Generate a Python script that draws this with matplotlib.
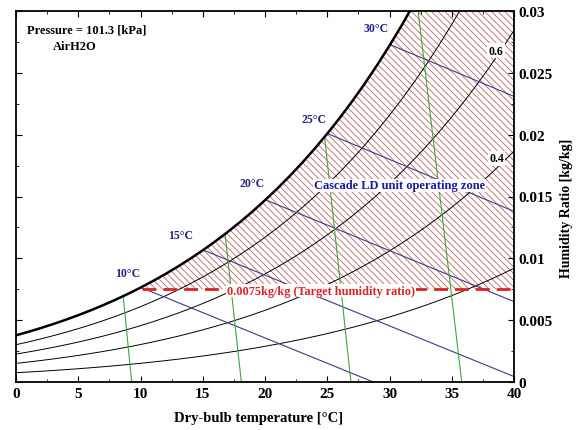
import numpy as np
import matplotlib
matplotlib.use("Agg")
import matplotlib.pyplot as plt
from matplotlib.ticker import MultipleLocator, FuncFormatter

plt.rcParams['font.family'] = ['Liberation Serif', 'DejaVu Serif']
plt.rcParams['font.weight'] = 'bold'
plt.rcParams['axes.labelweight'] = 'bold'
plt.rcParams['hatch.linewidth'] = 0.6

# ---- Data ----
P_ATM = 101.325  # kPa

# saturation vapour pressure of water [kPa], 0..40 C
t_table = list(range(0, 41))
p_sat = [0.6113, 0.6571, 0.7060, 0.7581, 0.8135, 0.8725, 0.9353, 1.0020, 1.0729, 1.1481,
         1.2281, 1.3129, 1.4027, 1.4979, 1.5988, 1.7056, 1.8185, 1.9380, 2.0644, 2.1978,
         2.3388, 2.4877, 2.6447, 2.8104, 2.9850, 3.1690, 3.3629, 3.5670, 3.7818, 4.0078,
         4.2455, 4.4953, 4.7578, 5.0335, 5.3229, 5.6267, 5.9453, 6.2795, 6.6298, 6.9969,
         7.3814]

rh_levels = [0.2, 0.4, 0.6, 0.8]

# wet-bulb lines: (T_start, w_start) on saturation -> (T_end, w_end)
wb_labels = ["10°C", "15°C", "20°C", "25°C", "30°C"]
wb_start = [(10.0, 0.00766), (15.0, 0.01069), (20.0, 0.01475), (25.0, 0.0201), (30.0, 0.0273)]
wb_end = [(28.7, 0.0), (40.0, 0.00044), (40.0, 0.0065), (40.0, 0.0138), (40.0, 0.0231)]
wb_label_pos = [(9.0, 0.0088), (13.2, 0.0119), (18.95, 0.0161), (23.9, 0.0213), (28.9, 0.0286)]

# specific volume lines (green)
vol_top = [(8.62, 0.00687), (16.8, 0.0119), (24.8, 0.0197), (32.3, 0.030)]
vol_bot = [(9.29, 0.0), (18.1, 0.0), (26.9, 0.0), (35.8, 0.0)]

rh_label = ["0.6", "0.4"]
rh_label_pos = [(38.55, 0.0268), (38.6, 0.0181)]

target_w = 0.0075

# ---- Helpers ----
t_arr = np.array(t_table, dtype=float)
ps_arr = np.array(p_sat)


def hum_ratio(phi):
    pv = phi * ps_arr
    return 0.622 * pv / (P_ATM - pv)


w_sat = hum_ratio(1.0)

# ---- Plot ----
fig = plt.figure(figsize=(5.8, 4.31), dpi=100)
ax = fig.add_axes([16 / 580, 48 / 431, 498 / 580, 371 / 431])

# hatched operating zone
ax.fill_between(t_arr, target_w, w_sat, where=w_sat >= target_w, interpolate=True,
                facecolor="none", edgecolor="#c06466", hatch="\\\\\\\\\\", linewidth=0, zorder=1)

for phi in rh_levels:
    ax.plot(t_arr, hum_ratio(phi), color="black", lw=0.7, zorder=2)
ax.plot(t_arr, w_sat, color="black", lw=1.8, zorder=3)

for (x0, y0), (x1, y1) in zip(wb_start, wb_end):
    ax.plot([x0, x1], [y0, y1], color="#3a3a8c", lw=0.8, zorder=2)

for (x0, y0), (x1, y1) in zip(vol_top, vol_bot):
    ax.plot([x0, x1], [y0, y1], color="#3aa83a", lw=0.8, zorder=2)

for lab, (x, y) in zip(wb_labels, wb_label_pos):
    ax.text(x, y, lab, color="#22228a", fontsize=8.5, ha="center", va="center", zorder=5)

for lab, (x, y) in zip(rh_label, rh_label_pos):
    ax.text(x, y, lab, color="black", fontsize=8.5, ha="center", va="center", zorder=5,
            bbox=dict(facecolor="white", edgecolor="none", pad=1))

# target line
ax.plot([10.1, 40], [target_w, target_w], color="#dd2222", lw=2, ls=(0, (5, 2.5)), zorder=4)
ax.text(24.5, 0.00738, "0.0075kg/kg (Target humidity ratio)", color="#dd2222", fontsize=8.8,
        ha="center", va="center", zorder=6,
        bbox=dict(facecolor="white", edgecolor="none", pad=0.5))
ax.text(30.8, 0.0159, "Cascade LD unit operating zone", color="#1a1aa0", fontsize=9,
        ha="center", va="center", zorder=6,
        bbox=dict(facecolor="white", edgecolor="none", pad=0.5))

ax.text(0.022, 0.949, "Pressure = 101.3 [kPa]", transform=ax.transAxes, fontsize=9,
        ha="left", va="center")
ax.text(0.074, 0.905, "AirH2O", transform=ax.transAxes, fontsize=9, ha="left", va="center")

# axes styling
ax.set_xlim(0, 40)
ax.set_ylim(0, 0.03)
ax.xaxis.set_major_locator(MultipleLocator(5))
ax.xaxis.set_minor_locator(MultipleLocator(2.5))
ax.yaxis.set_major_locator(MultipleLocator(0.005))
ax.yaxis.set_minor_locator(MultipleLocator(0.0025))
ax.yaxis.set_major_formatter(FuncFormatter(lambda v, p: "%g" % round(v, 4)))
ax.tick_params(which="both", direction="in", top=True, bottom=True, left=True, right=True,
               labelleft=False, labelright=True, labelsize=11)
ax.tick_params(which="major", length=4)
ax.tick_params(which="minor", length=2.5)
for s in ax.spines.values():
    s.set_linewidth(1.3)

ax.yaxis.set_label_position("right")
ax.set_xlabel("Dry-bulb temperature [°C]", fontsize=10.5)
ax.set_ylabel("Humidity Ratio [kg/kg]", fontsize=10)
ax.xaxis.set_label_coords(0.488, -0.078)
ax.yaxis.set_label_coords(1.093, 0.47)

fig.savefig("out.png", dpi=100)
